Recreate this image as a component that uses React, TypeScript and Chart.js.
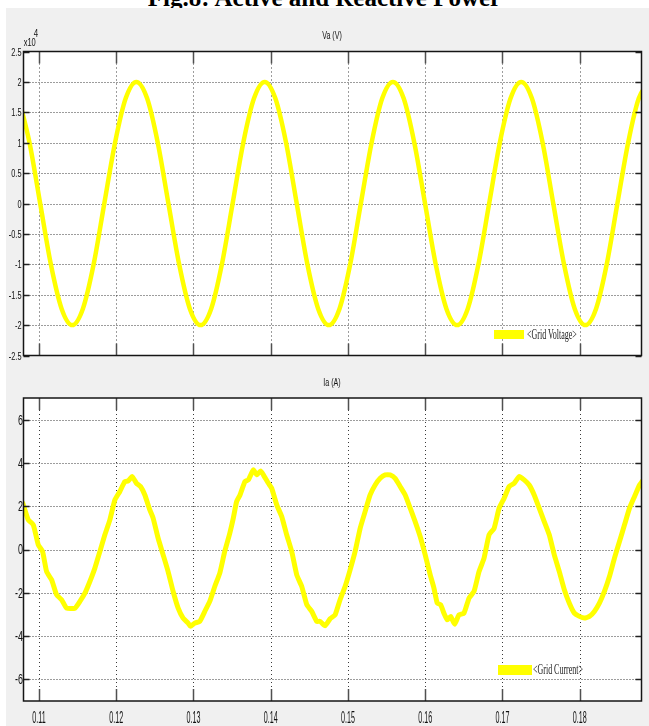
import React, { useEffect, useRef } from 'react';
import { Chart, registerables } from 'chart.js';

Chart.register(...registerables);

// ---------- texts ----------
const TITLE = 'Fig.8: Active and Reactive Power';
const VOLT_TITLE = 'Va (V)';
const CUR_TITLE = 'Ia (A)';
const VOLT_LEGEND = '<Grid Voltage>';
const CUR_LEGEND = '<Grid Current>';
const VOLT_EXP_BASE = 'x10';
const VOLT_EXP = '4';

// ---------- x axis (time, s) ----------
const X_MIN = 0.108;
const X_MAX = 0.188;
const X_TICKS = [0.11, 0.12, 0.13, 0.14, 0.15, 0.16, 0.17, 0.18];
const X_LABELS = ['0.11', '0.12', '0.13', '0.14', '0.15', '0.16', '0.17', '0.18'];

// ---------- top panel: grid voltage (V) ----------
const VOLT_MIN = -25000;
const VOLT_MAX = 25000;
const VOLT_TICKS = [-25000, -20000, -15000, -10000, -5000, 0, 5000, 10000, 15000, 20000, 25000];
const VOLT_LABELS = ['-2.5', '-2', '-1.5', '-1', '-0.5', '0', '0.5', '1', '1.5', '2', '2.5'];

const VOLT_T = [
  0.10739, 0.10878, 0.11016, 0.11154, 0.11293, 0.11431, 0.11569, 0.11708, 0.11846, 0.11985,
  0.12123, 0.12261, 0.12400, 0.12538, 0.12676, 0.12815, 0.12953, 0.13092, 0.13230, 0.13368,
  0.13507, 0.13645, 0.13784, 0.13922, 0.14060, 0.14199, 0.14337, 0.14475, 0.14614, 0.14752,
  0.14891, 0.15029, 0.15167, 0.15306, 0.15444, 0.15582, 0.15721, 0.15859, 0.15998, 0.16136,
  0.16274, 0.16413, 0.16551, 0.16689, 0.16828, 0.16966, 0.17105, 0.17243, 0.17381, 0.17520,
  0.17658, 0.17797, 0.17935, 0.18073, 0.18212, 0.18350, 0.18488, 0.18627, 0.18765, 0.18904,
];
const VOLT_V = [
  17300, 10000, 0, -10000, -17300, -20000, -17300, -10000, 0, 10000,
  17300, 20000, 17300, 10000, 0, -10000, -17300, -20000, -17300, -10000,
  0, 10000, 17300, 20000, 17300, 10000, 0, -10000, -17300, -20000,
  -17300, -10000, 0, 10000, 17300, 20000, 17300, 10000, 0, -10000,
  -17300, -20000, -17300, -10000, 0, 10000, 17300, 20000, 17300, 10000,
  0, -10000, -17300, -20000, -17300, -10000, 0, 10000, 17300, 20000,
];

// ---------- bottom panel: grid current (A) ----------
const CUR_MIN = -7;
const CUR_MAX = 7;
const CUR_TICKS = [-6, -4, -2, 0, 2, 4, 6];
const CUR_LABELS = ['-6', '-4', '-2', '0', '2', '4', '6'];

const CUR_T = [
  0.10790, 0.10862, 0.10927, 0.10991, 0.11047, 0.11099, 0.11164, 0.11228, 0.11293, 0.11358,
  0.11466, 0.11530, 0.11595, 0.11659, 0.11724, 0.11789, 0.11853, 0.11918, 0.11983, 0.12047,
  0.12112, 0.12155, 0.12207, 0.12263, 0.12315, 0.12371, 0.12435, 0.12478, 0.12543, 0.12608,
  0.12672, 0.12737, 0.12802, 0.12866, 0.12931, 0.12961, 0.13017, 0.13082, 0.13147, 0.13211,
  0.13276, 0.13341, 0.13405, 0.13470, 0.13516, 0.13559, 0.13603, 0.13667, 0.13711, 0.13775,
  0.13819, 0.13870, 0.13905, 0.13970, 0.14013, 0.14078, 0.14143, 0.14207, 0.14272, 0.14337,
  0.14402, 0.14467, 0.14531, 0.14596, 0.14639, 0.14704, 0.14769, 0.14834, 0.14898, 0.14963,
  0.15028, 0.15093, 0.15158, 0.15222, 0.15287, 0.15352, 0.15417, 0.15482, 0.15546, 0.15611,
  0.15676, 0.15741, 0.15806, 0.15870, 0.15935, 0.16000, 0.16065, 0.16113, 0.16156, 0.16199,
  0.16242, 0.16286, 0.16329, 0.16381, 0.16437, 0.16502, 0.16567, 0.16632, 0.16697, 0.16762,
  0.16827, 0.16892, 0.16957, 0.17022, 0.17087, 0.17152, 0.17216, 0.17281, 0.17346, 0.17411,
  0.17476, 0.17541, 0.17606, 0.17671, 0.17736, 0.17801, 0.17866, 0.17931, 0.17996, 0.18061,
  0.18126, 0.18190, 0.18255, 0.18320, 0.18385, 0.18450, 0.18515, 0.18580, 0.18645, 0.18710,
  0.18775, 0.18840,
];
const CUR_V = [
  2.15, 1.37, 1.14, 0.22, -0.09, -1.02, -1.40, -2.09, -2.32, -2.71,
  -2.71, -2.40, -2.02, -1.48, -0.86, -0.09, 0.68, 1.37, 2.29, 2.68,
  3.14, 3.17, 3.37, 3.06, 2.91, 2.52, 1.83, 1.45, 0.52, -0.25,
  -1.02, -1.94, -2.71, -3.17, -3.40, -3.55, -3.40, -3.32, -2.86, -2.40,
  -1.71, -1.09, -0.09, 0.75, 1.45, 2.22, 2.52, 3.14, 3.22, 3.68,
  3.45, 3.63, 3.45, 3.06, 2.83, 2.06, 1.52, 0.68, -0.09, -1.17,
  -1.71, -2.55, -2.86, -3.32, -3.32, -3.52, -3.20, -3.02, -2.32, -1.71,
  -0.94, -0.09, 0.98, 1.75, 2.52, 2.98, 3.29, 3.45, 3.45, 3.29,
  2.91, 2.52, 1.91, 1.29, 0.60, -0.25, -1.17, -1.78, -2.48, -2.55,
  -2.94, -3.25, -3.09, -3.45, -3.02, -2.94, -2.25, -1.94, -1.02, -0.40,
  0.68, 0.98, 1.91, 2.37, 2.91, 3.06, 3.37, 3.22, 2.98, 2.52,
  1.91, 1.29, 0.68, -0.25, -1.02, -1.86, -2.48, -2.94, -3.09, -3.17,
  -3.09, -2.86, -2.48, -1.94, -1.25, -0.40, 0.37, 1.14, 1.91, 2.45,
  2.98, 3.30,
];

const LINE_COLOR = '#ffff00';
const SANS = '"Liberation Sans", Arial, sans-serif';
const SERIF = '"Liberation Serif", "Times New Roman", serif';

function drawText(
  ctx: CanvasRenderingContext2D,
  text: string,
  x: number,
  y: number,
  size: number,
  sx: number,
  align: 'left' | 'center' | 'right',
  family: string = SANS,
  color: string = '#111',
) {
  ctx.save();
  ctx.font = `${size}px ${family}`;
  ctx.fillStyle = color;
  ctx.textBaseline = 'middle';
  ctx.textAlign = 'left';
  const w = ctx.measureText(text).width * sx;
  const left = align === 'center' ? x - w / 2 : align === 'right' ? x - w : x;
  ctx.translate(left, y);
  ctx.scale(sx, 1);
  ctx.fillText(text, 0, 0);
  ctx.restore();
}

type FrameCfg = {
  yTicks: number[];
  yLabels: string[];
  yLabelRight: number;
  yFontSize: number;
  ySx: number;
  showXLabels: boolean;
  xLabelY: number;
  xFontSize: number;
  xSx: number;
  title: string;
  titleX: number;
  titleY: number;
  exponent: boolean;
  legend: string;
  legendRect: [number, number, number, number];
  legendTextX: number;
  legendTextY: number;
};

function framePlugin(f: FrameCfg) {
  return {
    id: 'matlabFrame',
    beforeDatasetsDraw(chart: any) {
      const { ctx, chartArea: a, scales } = chart;
      const xs = scales.x;
      const ys = scales.y;
      ctx.save();
      ctx.fillStyle = '#ffffff';
      ctx.fillRect(a.left, a.top, a.right - a.left, a.bottom - a.top);
      ctx.strokeStyle = '#3a3a3a';
      ctx.lineWidth = 1;
      ctx.setLineDash([1, 2]);
      for (const v of f.yTicks) {
        if (v <= ys.min || v >= ys.max) continue;
        const y = Math.round(ys.getPixelForValue(v)) + 0.5;
        ctx.beginPath();
        ctx.moveTo(a.left, y);
        ctx.lineTo(a.right, y);
        ctx.stroke();
      }
      ctx.setLineDash([1, 3]);
      for (const v of X_TICKS) {
        const x = Math.round(xs.getPixelForValue(v)) + 0.5;
        ctx.beginPath();
        ctx.moveTo(x, a.top);
        ctx.lineTo(x, a.bottom);
        ctx.stroke();
      }
      ctx.restore();
    },
    afterDatasetsDraw(chart: any) {
      const { ctx, chartArea: a, scales } = chart;
      const xs = scales.x;
      const ys = scales.y;
      ctx.save();
      // inner x ticks (top and bottom)
      ctx.setLineDash([]);
      ctx.strokeStyle = '#505050';
      ctx.lineWidth = 1.5;
      for (const v of X_TICKS) {
        const x = Math.round(xs.getPixelForValue(v)) + 0.5;
        ctx.beginPath();
        ctx.moveTo(x, a.bottom);
        ctx.lineTo(x, a.bottom - 12);
        ctx.moveTo(x, a.top);
        ctx.lineTo(x, a.top + 12);
        ctx.stroke();
      }
      // inner y ticks (left and right)
      ctx.strokeStyle = '#222';
      for (const v of f.yTicks) {
        const y = Math.round(ys.getPixelForValue(v)) + 0.5;
        ctx.beginPath();
        ctx.moveTo(a.left, y);
        ctx.lineTo(a.left + 6, y);
        ctx.moveTo(a.right, y);
        ctx.lineTo(a.right - 6, y);
        ctx.stroke();
      }
      // box
      ctx.strokeStyle = '#151515';
      ctx.lineWidth = 1.5;
      ctx.strokeRect(a.left, a.top, a.right - a.left, a.bottom - a.top);
      ctx.restore();

      // y labels
      f.yTicks.forEach((v, i) => {
        const y = ys.getPixelForValue(v) + 1;
        drawText(ctx, f.yLabels[i], f.yLabelRight, y, f.yFontSize, f.ySx, 'right');
      });
      // x labels
      if (f.showXLabels) {
        X_TICKS.forEach((v, i) => {
          const x = xs.getPixelForValue(v);
          drawText(ctx, X_LABELS[i], x, f.xLabelY, f.xFontSize, f.xSx, 'center');
        });
      }
      // exponent
      if (f.exponent) {
        drawText(ctx, VOLT_EXP_BASE, 29.7, 43.7, 10, 0.75, 'center');
        drawText(ctx, VOLT_EXP, 36, 34, 10.5, 0.75, 'center');
      }
      // panel title
      drawText(ctx, f.title, f.titleX, f.titleY, 11.5, 0.62, 'center');
      // legend
      const [lx, ly, lw, lh] = f.legendRect;
      ctx.save();
      ctx.fillStyle = LINE_COLOR;
      ctx.fillRect(lx, ly, lw, lh);
      ctx.restore();
      drawText(ctx, f.legend, f.legendTextX, f.legendTextY, 14, 0.57, 'left', SERIF, '#1a1a1a');
    },
  };
}

function buildConfig(
  t: number[],
  v: number[],
  yMin: number,
  yMax: number,
  padding: { left: number; right: number; top: number; bottom: number },
  width: number,
  smooth: boolean,
  frame: FrameCfg,
): any {
  return {
    type: 'line',
    data: {
      datasets: [
        {
          data: t.map((x, i) => ({ x, y: v[i] })),
          borderColor: LINE_COLOR,
          borderWidth: width,
          pointRadius: 0,
          fill: false,
          tension: smooth ? 0.4 : 0.15,
          cubicInterpolationMode: smooth ? 'monotone' : 'default',
          borderJoinStyle: 'round',
          borderCapStyle: 'round',
          clip: 0,
        },
      ],
    },
    options: {
      animation: false,
      responsive: false,
      maintainAspectRatio: false,
      devicePixelRatio: 1,
      events: [],
      layout: { padding },
      scales: {
        x: { type: 'linear', min: X_MIN, max: X_MAX, display: false },
        y: { type: 'linear', min: yMin, max: yMax, display: false },
      },
      plugins: {
        legend: { display: false },
        tooltip: { enabled: false },
        title: { display: false },
      },
    },
    plugins: [framePlugin(frame)],
  };
}

export default function App() {
  const topRef = useRef<HTMLCanvasElement>(null);
  const botRef = useRef<HTMLCanvasElement>(null);

  useEffect(() => {
    const top = new Chart(
      topRef.current as HTMLCanvasElement,
      buildConfig(
        VOLT_T,
        VOLT_V,
        VOLT_MIN,
        VOLT_MAX,
        { left: 23.5, right: 7.5, top: 51.5, bottom: 16.5 },
        4.5,
        true,
        {
          yTicks: VOLT_TICKS,
          yLabels: VOLT_LABELS,
          yLabelRight: 21.5,
          yFontSize: 11.5,
          ySx: 0.64,
          showXLabels: false,
          xLabelY: 0,
          xFontSize: 17,
          xSx: 0.42,
          title: VOLT_TITLE,
          titleX: 332,
          titleY: 35.5,
          exponent: true,
          legend: VOLT_LEGEND,
          legendRect: [494, 330, 30, 9],
          legendTextX: 527,
          legendTextY: 335,
        },
      ),
    );
    const bot = new Chart(
      botRef.current as HTMLCanvasElement,
      buildConfig(
        CUR_T,
        CUR_V,
        CUR_MIN,
        CUR_MAX,
        { left: 23.5, right: 7.5, top: 26, bottom: 25 },
        5,
        false,
        {
          yTicks: CUR_TICKS,
          yLabels: CUR_LABELS,
          yLabelRight: 23,
          yFontSize: 14,
          ySx: 0.64,
          showXLabels: true,
          xLabelY: 346,
          xFontSize: 17,
          xSx: 0.42,
          title: CUR_TITLE,
          titleX: 332,
          titleY: 11,
          exponent: false,
          legend: CUR_LEGEND,
          legendRect: [498, 293, 34, 10],
          legendTextX: 533,
          legendTextY: 298.5,
        },
      ),
    );
    return () => {
      top.destroy();
      bot.destroy();
    };
  }, []);

  return (
    <div
      style={{
        position: 'fixed',
        left: 0,
        top: 0,
        width: 649,
        height: 726,
        background: '#ffffff',
        overflow: 'hidden',
      }}
    >
      <div
        style={{
          position: 'absolute',
          left: 0,
          top: -15,
          width: 649,
          textAlign: 'center',
          fontFamily: SERIF,
          fontWeight: 'bold',
          fontSize: 25,
          lineHeight: '25px',
          whiteSpace: 'nowrap',
          color: '#000',
        }}
      >
        {TITLE}
      </div>
      <div
        style={{
          position: 'absolute',
          left: 6,
          top: 8,
          width: 643,
          height: 718,
          background: '#f0f0f0',
        }}
      />
      <canvas
        ref={topRef}
        width={649}
        height={372}
        style={{ position: 'absolute', left: 0, top: 0, width: 649, height: 372 }}
      />
      <canvas
        ref={botRef}
        width={649}
        height={354}
        style={{ position: 'absolute', left: 0, top: 372, width: 649, height: 354 }}
      />
    </div>
  );
}
